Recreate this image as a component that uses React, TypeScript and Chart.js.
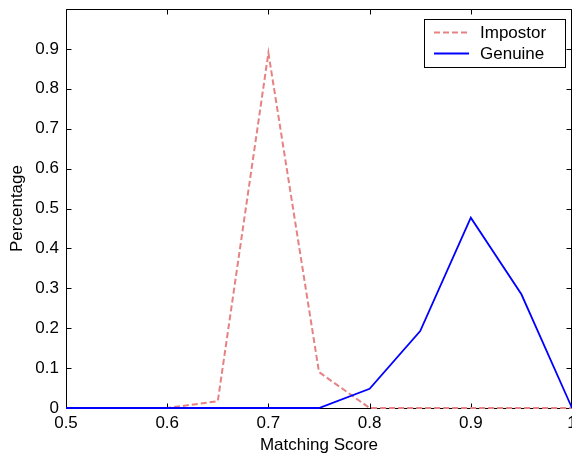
import React, { useEffect, useRef } from "react";
import { Chart, registerables } from "chart.js";

Chart.register(...registerables);

const scores = [0.5, 0.55, 0.6, 0.65, 0.7, 0.75, 0.8, 0.85, 0.9, 0.95, 1.0];
const impostor = [0, 0, 0, 0.017, 0.89, 0.09, 0, 0, 0, 0, 0];
const genuine = [0, 0, 0, 0, 0, 0, 0.048, 0.193, 0.477, 0.285, 0];

const xTicks = [0.5, 0.6, 0.7, 0.8, 0.9, 1.0];
const yTicks = [0, 0.1, 0.2, 0.3, 0.4, 0.5, 0.6, 0.7, 0.8, 0.9, 1.0];

const FONT = "Arial, 'Liberation Sans', Helvetica, sans-serif";

const fmt = (v: number) => String(parseFloat(Number(v).toFixed(2)));

const framePlugin = {
  id: "frame",
  beforeDatasetsDraw(chart: any) {
    const { ctx, chartArea, scales } = chart;
    const { left, right, top, bottom } = chartArea;
    const L = Math.round(left) + 0.5;
    const R = Math.round(right) - 0.5;
    const T = Math.round(top) + 0.5;
    const B = Math.round(bottom) + 0.5;
    ctx.save();
    ctx.strokeStyle = "#000";
    ctx.lineWidth = 1;
    ctx.beginPath();
    ctx.moveTo(L, T);
    ctx.lineTo(R, T);
    ctx.lineTo(R, B);
    ctx.lineTo(L, B);
    ctx.closePath();
    ctx.stroke();
    const tl = 5;
    ctx.beginPath();
    for (const t of scales.x.ticks) {
      const px = Math.round(scales.x.getPixelForValue(t.value)) + 0.5;
      ctx.moveTo(px, B);
      ctx.lineTo(px, B - tl);
      ctx.moveTo(px, T);
      ctx.lineTo(px, T + tl);
    }
    for (const t of scales.y.ticks) {
      const py = Math.round(scales.y.getPixelForValue(t.value)) + 0.5;
      ctx.moveTo(L, py);
      ctx.lineTo(L + tl, py);
      ctx.moveTo(R, py);
      ctx.lineTo(R - tl, py);
    }
    ctx.stroke();
    ctx.restore();
  },
};

const legendPlugin = {
  id: "boxLegend",
  afterDraw(chart: any) {
    const { ctx } = chart;
    const ds = [chart.data.datasets[0], chart.data.datasets[1]];
    const bx = 424.5, by = 19.5, bw = 141, bh = 48;
    ctx.save();
    ctx.fillStyle = "#fff";
    ctx.fillRect(bx, by, bw, bh);
    ctx.strokeStyle = "#000";
    ctx.lineWidth = 1;
    ctx.strokeRect(bx, by, bw, bh);
    ctx.font = `17px ${FONT}`;
    ctx.textBaseline = "middle";
    ctx.textAlign = "left";
    const rows = [32, 53];
    ds.forEach((d: any, i: number) => {
      const y = rows[i];
      ctx.beginPath();
      ctx.strokeStyle = d.borderColor;
      ctx.lineWidth = 2;
      ctx.setLineDash(d.borderDash || []);
      ctx.moveTo(434, y + 0.5);
      ctx.lineTo(469, y + 0.5);
      ctx.stroke();
      ctx.setLineDash([]);
      ctx.fillStyle = "#000";
      ctx.fillText(d.label, 480, y + 1);
    });
    ctx.restore();
  },
};

export default function App() {
  const ref = useRef<HTMLCanvasElement | null>(null);
  useEffect(() => {
    if (!ref.current) return;
    const chart = new Chart(ref.current, {
      type: "line",
      data: {
        datasets: [
          {
            label: "Impostor",
            data: scores.map((s, i) => ({ x: s, y: impostor[i] })),
            borderColor: "rgb(230,130,130)",
            borderWidth: 2,
            borderDash: [6, 3],
            pointRadius: 0,
            tension: 0,
            fill: false,
            clip: false,
            order: 1,
          },
          {
            label: "Genuine",
            data: scores.map((s, i) => ({ x: s, y: genuine[i] })),
            borderColor: "#0000ff",
            borderWidth: 1.8,
            pointRadius: 0,
            tension: 0,
            fill: false,
            clip: false,
            order: 0,
          },
        ],
      },
      options: {
        animation: false,
        responsive: false,
        devicePixelRatio: 1,
        layout: { padding: { top: 9, right: 28, left: 0, bottom: 0 } },
        plugins: { legend: { display: false }, tooltip: { enabled: false } },
        scales: {
          x: {
            type: "linear",
            min: 0.5,
            max: 1.0,
            afterBuildTicks: (s: any) => {
              s.ticks = xTicks.map((v) => ({ value: v }));
            },
            afterFit: (s: any) => {
              s.height = 51;
              s.paddingLeft = 0;
              s.paddingRight = 0;
            },
            grid: { display: false, drawTicks: false },
            border: { display: false },
            ticks: {
              autoSkip: false,
              maxRotation: 0,
              padding: 5,
              color: "#000",
              font: { family: FONT, size: 17 },
              callback: (v: any) => fmt(v),
            },
            title: {
              display: true,
              text: "Matching Score",
              color: "#000",
              font: { family: FONT, size: 17 },
              padding: { top: 0, bottom: 3 },
            },
          },
          y: {
            type: "linear",
            min: 0,
            max: 1.0,
            afterBuildTicks: (s: any) => {
              s.ticks = yTicks.map((v) => ({ value: v }));
            },
            afterFit: (s: any) => {
              s.width = 66;
              s.paddingTop = 0;
              s.paddingBottom = 0;
            },
            grid: { display: false, drawTicks: false },
            border: { display: false },
            ticks: {
              autoSkip: false,
              padding: 7,
              color: "#000",
              font: { family: FONT, size: 17 },
              callback: (v: any) => (Number(v) >= 0.999 ? "" : fmt(v)),
            },
            title: {
              display: true,
              text: "Percentage",
              color: "#000",
              font: { family: FONT, size: 17 },
              padding: { top: 7, bottom: 0 },
            },
          },
        },
      },
      plugins: [framePlugin, legendPlugin],
    } as any);
    return () => chart.destroy();
  }, []);
  return (
    <div
      style={{
        position: "fixed",
        left: 0,
        top: 0,
        width: 572,
        height: 459,
        overflow: "hidden",
        background: "#fff",
      }}
    >
      <canvas ref={ref} width={600} height={459} style={{ display: "block" }} />
    </div>
  );
}
